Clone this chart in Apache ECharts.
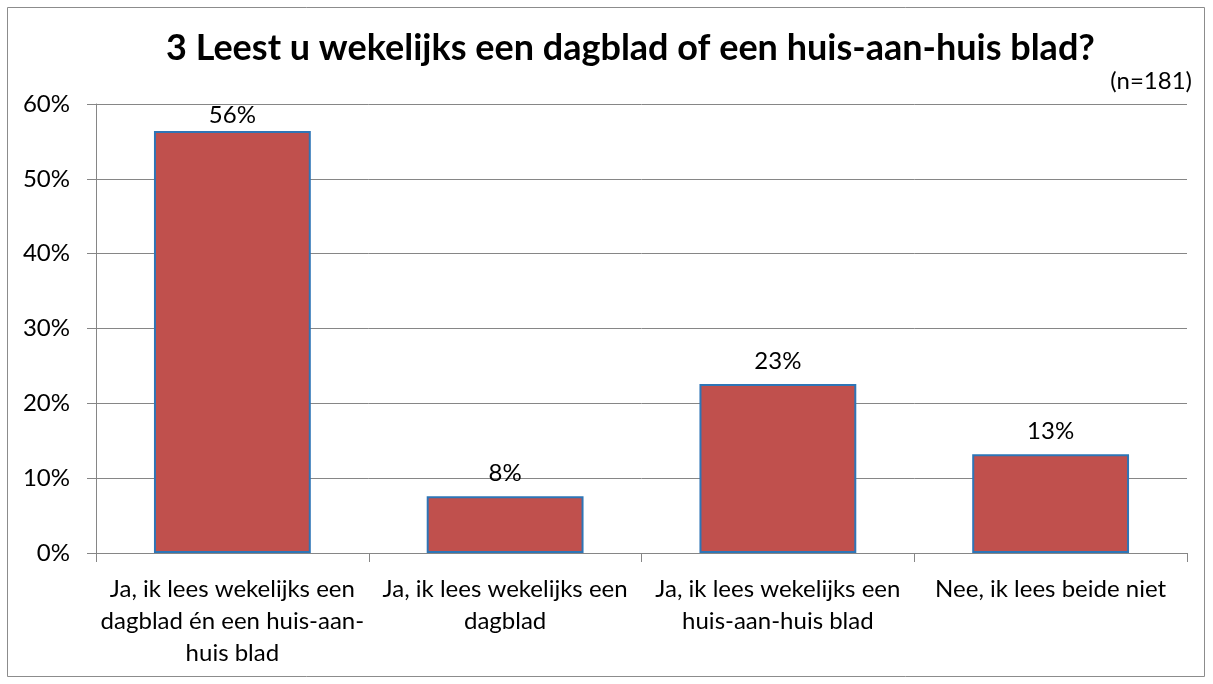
<!DOCTYPE html>
<html>
<head>
<meta charset="utf-8">
<script src="https://cdn.jsdelivr.net/npm/echarts@6/dist/echarts.min.js"></script>
<style>
  html, body { margin: 0; padding: 0; background: #fff; }
  #main { width: 1213px; height: 684px; }
</style>
</head>
<body>
<div id="main"></div>
<script>
// categorieen (met handmatige regelafbreking zoals in het origineel)
let categories = [
    'Ja, ik lees wekelijks een\ndagblad én een huis-aan-\nhuis blad',
    'Ja, ik lees wekelijks een\ndagblad',
    'Ja, ik lees wekelijks een\nhuis-aan-huis blad',
    'Nee, ik lees beide niet'
];
let values = [56.4, 7.6, 22.6, 13.2]; // percentages
let yTicks = [0, 10, 20, 30, 40, 50, 60];

let font = 'Lato, "Open Sans", sans-serif';
let chart = echarts.init(document.getElementById('main'));

// het bovenste label past niet boven de grid, dus iets dichter op de staaf
let barData = values.map((v, i) => {
    if (v > yTicks[yTicks.length - 1] - 5) return { value: v, label: { distance: 4 } };
    return v;
});

chart.setOption({
    animation: false,
    backgroundColor: '#fff',
    title: [{
        text: '3 Leest u wekelijks een dagblad of een huis-aan-huis blad?',
        left: 161,
        top: 25,
        textStyle: { fontFamily: font, fontSize: 36, fontWeight: 'bold', color: '#000' }
    }, {
        text: '(n=181)',
        right: 16,
        top: 64,
        textStyle: { fontFamily: font, fontSize: 24, fontWeight: 'normal', color: '#000' }
    }],
    graphic: [{
        type: 'rect',
        shape: { x: 7.5, y: 7.5, width: 1197, height: 669 },
        style: { fill: 'none', stroke: '#8c8c8c', lineWidth: 1 },
        silent: true
    }],
    grid: { left: 96, right: 26, top: 104, bottom: 131 },
    xAxis: {
        type: 'category',
        data: categories,
        axisLine: { lineStyle: { color: '#868686', width: 1 } },
        axisTick: { show: true, length: 9, lineStyle: { color: '#868686' } },
        axisLabel: {
            fontFamily: font, fontSize: 24, color: '#000',
            lineHeight: 32, margin: 20, interval: 0
        }
    },
    yAxis: {
        type: 'value',
        min: yTicks[0],
        max: yTicks[yTicks.length - 1],
        interval: 10,
        axisLine: { show: true, lineStyle: { color: '#868686', width: 1 } },
        axisTick: { show: true, length: 9, lineStyle: { color: '#868686' } },
        axisLabel: {
            fontFamily: font, fontSize: 24, color: '#000', margin: 26,
            formatter: '{value}%'
        },
        splitLine: { lineStyle: { color: '#868686', width: 1 } }
    },
    series: [{
        type: 'bar',
        data: barData,
        barCategoryGap: '42.5%',
        itemStyle: { color: '#C0504D', borderColor: '#2E75B6', borderWidth: 2 },
        label: {
            show: true,
            position: 'top',
            distance: 11,
            fontFamily: font, fontSize: 24, color: '#000',
            formatter: p => Math.round(p.value) + '%'
        }
    }]
});
</script>
</body>
</html>
